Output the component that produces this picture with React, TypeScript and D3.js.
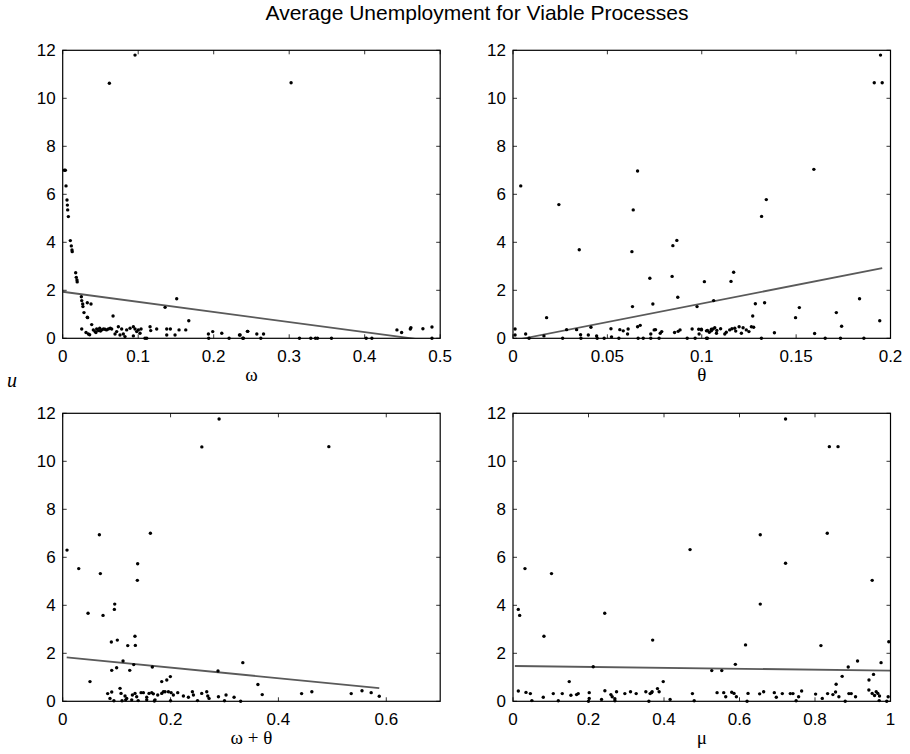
import React from "react";
import * as d3 from "d3";

// u (average unemployment) against each parameter
const omegaPts: [number, number][] = [
  [0.0958, 11.8], [0.0618, 10.63], [0.3025, 10.65],
  [0.002, 7.0], [0.0035, 7.0], [0.0044, 6.35], [0.0057, 5.76], [0.0062, 5.55], [0.0066, 5.35], [0.0075, 5.07],
  [0.0101, 4.07], [0.0114, 3.85], [0.0123, 3.68], [0.0126, 3.61],
  [0.0172, 2.73], [0.018, 2.54], [0.0189, 2.43], [0.0192, 2.35],
  [0.0247, 1.73], [0.0252, 1.57], [0.0265, 1.43], [0.0268, 1.32], [0.0326, 1.48], [0.0375, 1.43],
  [0.0282, 1.07], [0.0326, 0.88], [0.033, 0.86], [0.0384, 0.57], [0.0667, 0.93], [0.1356, 1.29], [0.151, 1.65], [0.167, 0.73],
  [0.0252, 0.39], [0.0309, 0.24], [0.034, 0.18], [0.0357, 0.15],
  [0.0406, 0.35], [0.0428, 0.28], [0.045, 0.39], [0.0472, 0.32], [0.049, 0.42], [0.0516, 0.35], [0.054, 0.39],
  [0.056, 0.38], [0.058, 0.35], [0.0605, 0.39], [0.063, 0.42], [0.0649, 0.39], [0.044, 0.24], [0.05, 0.3],
  [0.0693, 0.18], [0.0715, 0.28], [0.0737, 0.48], [0.0759, 0.14], [0.0781, 0.39], [0.0803, 0.18], [0.0825, 0.07],
  [0.0847, 0.35], [0.0892, 0.42], [0.0936, 0.48], [0.0958, 0.39], [0.098, 0.28], [0.1002, 0.35], [0.1038, 0.39],
  [0.0936, 0.1], [0.1024, 0.21], [0.109, 0.0], [0.1113, 0.0], [0.1157, 0.48], [0.1166, 0.32], [0.1245, 0.39],
  [0.1378, 0.39], [0.1426, 0.39], [0.1378, 0.14], [0.1488, 0.14], [0.1541, 0.35], [0.163, 0.35], [0.193, 0.18],
  [0.1934, 0.0], [0.1987, 0.28], [0.2107, 0.21], [0.2204, 0.0], [0.2341, 0.14], [0.2394, 0.0], [0.2451, 0.29],
  [0.235, 0.14], [0.2385, 0.0], [0.2447, 0.29], [0.2571, 0.18], [0.2624, 0.0], [0.266, 0.18], [0.3136, 0.0],
  [0.3286, 0.0], [0.3348, 0.0], [0.3375, 0.0], [0.356, 0.0], [0.402, 0.0], [0.4095, 0.0], [0.4427, 0.35],
  [0.4489, 0.24], [0.4604, 0.39], [0.4612, 0.44], [0.4771, 0.4], [0.4891, 0.47], [0.4891, 0.0],
];

const thetaPts: [number, number][] = [
  [0.1947, 11.8], [0.1914, 10.65], [0.1956, 10.65], [0.1594, 7.04], [0.066, 6.97], [0.0041, 6.35], [0.1342, 5.78],
  [0.0243, 5.57], [0.0637, 5.35], [0.1317, 5.08], [0.0868, 4.08], [0.0847, 3.86], [0.0351, 3.69], [0.063, 3.61],
  [0.1169, 2.75], [0.0843, 2.58], [0.0725, 2.5], [0.1014, 2.36], [0.1155, 2.37], [0.0873, 1.71], [0.1836, 1.65],
  [0.1063, 1.57], [0.1333, 1.48], [0.0741, 1.43], [0.1284, 1.44], [0.0633, 1.32], [0.0975, 1.32], [0.1517, 1.28],
  [0.1713, 1.07], [0.127, 0.93], [0.0178, 0.86], [0.1497, 0.86], [0.1943, 0.73], [0.1741, 0.5], [0.1385, 0.23],
  [0.1598, 0.2], [0.1316, 0], [0.1654, 0], [0.1735, 0], [0.1859, 0],
  [0.0011, 0.39], [0.0011, 0.14], [0.0067, 0.18], [0.0085, 0.0], [0.0164, 0.1], [0.0263, 0.0], [0.0284, 0.36],
  [0.0337, 0.36], [0.0358, 0.15], [0.0399, 0.14], [0.0413, 0.46], [0.0443, 0.1], [0.0483, 0.0], [0.0519, 0.4],
  [0.0522, 0.06], [0.0561, 0.0], [0.0566, 0.36], [0.0584, 0.31], [0.0607, 0.18], [0.061, 0.39], [0.066, 0.48],
  [0.0663, 0.0], [0.0674, 0.54], [0.069, 0.0], [0.073, 0.18], [0.0748, 0.35], [0.0755, 0.36], [0.073, 0.0],
  [0.0774, 0.0], [0.078, 0.21], [0.0788, 0.28], [0.0856, 0.24], [0.0875, 0.29], [0.0885, 0.35], [0.0923, 0.0],
  [0.0949, 0.39], [0.0984, 0.38], [0.0986, 0.18], [0.0998, 0.35], [0.103, 0.0], [0.103, 0.33], [0.1051, 0.31],
  [0.106, 0.39], [0.0998, 0.38], [0.1025, 0.31], [0.1051, 0.38], [0.1069, 0.44], [0.1078, 0.21], [0.1122, 0.18],
  [0.1148, 0.35], [0.1175, 0.42], [0.1198, 0.48], [0.121, 0.21], [0.1219, 0.44], [0.1236, 0.35], [0.125, 0.28],
  [0.1263, 0.48], [0.1275, 0.46], [0.1025, 0.0], [0.108, 0.33], [0.113, 0.25], [0.116, 0.4], [0.118, 0.3],
  [0.11, 0.4], [0.104, 0.25], [0.036, 0.0], [0.0446, 0.0], [0.0965, 0.0],
];

const sumPts: [number, number][] = [
  [0.29, 11.76], [0.258, 10.6], [0.4935, 10.61], [0.068, 6.94], [0.1626, 7.0], [0.008, 6.3], [0.0297, 5.53],
  [0.0698, 5.32], [0.139, 5.73], [0.1384, 5.04], [0.047, 3.67], [0.0748, 3.58], [0.0965, 4.05], [0.0958, 3.83],
  [0.0902, 2.47], [0.1013, 2.55], [0.134, 2.71], [0.1206, 2.32], [0.1347, 2.33], [0.1119, 1.68], [0.1317, 1.53],
  [0.0909, 1.29], [0.1, 1.4], [0.1243, 1.29], [0.1662, 1.43], [0.334, 1.61], [0.288, 1.26], [0.0506, 0.82],
  [0.1836, 0.82], [0.193, 0.89], [0.1996, 1.03],
  [0.362, 0.7], [0.37, 0.28], [0.443, 0.32], [0.462, 0.4], [0.535, 0.32], [0.555, 0.44], [0.572, 0.36], [0.587, 0.21],
  [0.0834, 0.32], [0.0909, 0.39], [0.0877, 0.12], [0.1063, 0.54], [0.1082, 0.33], [0.1156, 0.22], [0.1187, 0.12],
  [0.1292, 0.26], [0.1341, 0.33], [0.1372, 0.19], [0.1453, 0.36], [0.1496, 0.36], [0.1558, 0.17], [0.1601, 0.33],
  [0.1651, 0.36], [0.1681, 0.31], [0.1762, 0.26], [0.1836, 0.33], [0.1867, 0.4], [0.1898, 0.4], [0.196, 0.4],
  [0.201, 0.36], [0.2052, 0.26], [0.2133, 0.36], [0.2238, 0.22], [0.2331, 0.17], [0.2405, 0.4], [0.2424, 0.26],
  [0.2578, 0.33], [0.2671, 0.4], [0.269, 0.22], [0.2714, 0.12], [0.2888, 0.19], [0.3029, 0.26], [0.3178, 0.17],
  [0.1558, 0.06], [0.1712, 0.06], [0.1168, 0.06], [0.128, 0.06], [0.11, 0.02], [0.14, 0.03], [0.17, 0.01],
  [0.2, 0.02], [0.25, 0.03], [0.3, 0.02], [0.33, 0.0], [0.095, 0.02],
];

const muPts: [number, number][] = [
  [0.722, 11.76], [0.838, 10.61], [0.861, 10.61], [0.655, 6.94], [0.8325, 7.0], [0.469, 6.32], [0.722, 5.75],
  [0.0317, 5.53], [0.102, 5.32], [0.9515, 5.04], [0.655, 4.05], [0.014, 3.83], [0.0177, 3.58], [0.243, 3.67],
  [0.082, 2.71], [0.37, 2.55], [0.616, 2.35], [0.8157, 2.32], [0.9955, 2.48], [0.2125, 1.44], [0.5265, 1.28],
  [0.553, 1.28], [0.589, 1.54], [0.9127, 1.68], [0.975, 1.61], [0.888, 1.43], [0.872, 1.04], [0.856, 0.71],
  [0.943, 0.89], [0.149, 0.82], [0.398, 0.82],
  [0.0141, 0.43], [0.0344, 0.37], [0.046, 0.32], [0.0802, 0.17], [0.1067, 0.32], [0.1305, 0.32], [0.1534, 0.25],
  [0.1684, 0.28], [0.1728, 0.32], [0.2019, 0.36], [0.2019, 0.12], [0.2346, 0.08], [0.2434, 0.44], [0.2593, 0.28],
  [0.2628, 0.19], [0.2698, 0.11], [0.2743, 0.4], [0.2963, 0.32], [0.3113, 0.4], [0.3263, 0.32], [0.3519, 0.4],
  [0.3633, 0.32], [0.3669, 0.36], [0.3686, 0.4], [0.3827, 0.53], [0.3871, 0.4], [0.4162, 0.08], [0.4753, 0.32],
  [0.5406, 0.36], [0.5582, 0.36], [0.5635, 0.19], [0.5794, 0.38], [0.5855, 0.33], [0.5917, 0.19], [0.6226, 0.33],
  [0.6534, 0.31], [0.664, 0.4], [0.6922, 0.36], [0.6975, 0.17], [0.7134, 0.32], [0.7346, 0.32], [0.7416, 0.32],
  [0.7566, 0.19], [0.7646, 0.43], [0.8016, 0.3], [0.8193, 0.12], [0.8334, 0.32], [0.8474, 0.28], [0.8545, 0.39],
  [0.8633, 0.19], [0.8898, 0.32], [0.896, 0.32], [0.9074, 0.19], [0.9427, 0.47], [0.9515, 0.33], [0.9577, 0.24],
  [0.9621, 0.4], [0.9665, 0.33], [0.9709, 0.22], [0.955, 1.12], [0.9938, 0.19],
  [0.05, 0.03], [0.12, 0.02], [0.2, 0.0], [0.27, 0.02], [0.36, 0.0], [0.48, 0.02], [0.62, 0.0], [0.75, 0.02],
  [0.88, 0.0], [0.97, 0.03], [0.99, 0.0],
];

// least-squares lines, endpoints
const omegaFit: [number, number][] = [[0.0, 1.94], [0.49, -0.12]];
const thetaFit: [number, number][] = [[0.004, -0.03], [0.1956, 2.92]];
const sumFit: [number, number][] = [[0.0074, 1.83], [0.587, 0.55]];
const muFit: [number, number][] = [[0.005, 1.47], [1.0, 1.28]];

const uTicks = [0, 2, 4, 6, 8, 10, 12];
const omegaTicks = [0, 0.1, 0.2, 0.3, 0.4, 0.5];
const thetaTicks = [0, 0.05, 0.1, 0.15, 0.2];
const sumTicks = [0, 0.2, 0.4, 0.6];
const muTicks = [0, 0.2, 0.4, 0.6, 0.8, 1];

const title = "Average Unemployment for Viable Processes";
const sans = "'Liberation Sans', Arial, Helvetica, sans-serif";
const serif = "'Liberation Serif', 'Times New Roman', serif";

type PanelProps = {
  id: string;
  left: number;
  top: number;
  xMax: number;
  xTicks: number[];
  pts: [number, number][];
  fit: [number, number][];
  label: string;
};

const W = 377.5;
const H = 288;
const TICK = 4;

const Panel = ({ id, left, top, xMax, xTicks, pts, fit, label }: PanelProps) => {
  const x = d3.scaleLinear().domain([0, xMax]).range([0, W]);
  const y = d3.scaleLinear().domain([0, 12]).range([H, 0]);
  const line = d3
    .line<[number, number]>()
    .x((d) => x(d[0]))
    .y((d) => y(d[1]));

  return (
    <g transform={`translate(${left},${top})`}>
      <clipPath id={id}>
        <rect x={0} y={0} width={W} height={H} />
      </clipPath>
      <rect x={0} y={0} width={W} height={H} fill="white" />
      {/* regression line */}
      <path d={line(fit) ?? ""} stroke="#5a5a5a" strokeWidth={1.8} fill="none" clipPath={`url(#${id})`} />
      {/* points */}
      {pts.map((d, i) => (
        <circle key={i} cx={x(d[0])} cy={y(d[1])} r={1.7} fill="black" />
      ))}
      {/* inward ticks on all sides */}
      {xTicks.map((t, i) => (
        <g key={i}>
          <line x1={x(t)} x2={x(t)} y1={H} y2={H - TICK} stroke="black" strokeWidth={0.8} />
          <line x1={x(t)} x2={x(t)} y1={0} y2={TICK} stroke="black" strokeWidth={0.8} />
          <text x={x(t)} y={H + 24} textAnchor="middle" fontFamily={sans} fontSize={17}>
            {String(t)}
          </text>
        </g>
      ))}
      {uTicks.map((t, i) => (
        <g key={i}>
          <line x1={0} x2={TICK} y1={y(t)} y2={y(t)} stroke="black" strokeWidth={0.8} />
          <line x1={W} x2={W - TICK} y1={y(t)} y2={y(t)} stroke="black" strokeWidth={0.8} />
          <text x={-7} y={y(t) + 6} textAnchor="end" fontFamily={sans} fontSize={17}>
            {String(t)}
          </text>
        </g>
      ))}
      <rect x={0} y={0} width={W} height={H} fill="none" stroke="black" strokeWidth={1.2} />
      <text x={W / 2} y={H + 43} textAnchor="middle" fontFamily={serif} fontSize={19}>
        {label}
      </text>
    </g>
  );
};

const App = () => {
  return (
    <svg
      width={910}
      height={754}
      style={{ position: "absolute", left: 0, top: 0, background: "white" }}
    >
      <rect width={910} height={754} fill="white" />
      <text x={477} y={20} textAnchor="middle" fontFamily={sans} fontSize={21}>
        {title}
      </text>
      <Panel id="c1" left={62.7} top={50.3} xMax={0.5} xTicks={omegaTicks} pts={omegaPts} fit={omegaFit} label="ω" />
      <Panel id="c2" left={513} top={50.3} xMax={0.2} xTicks={thetaTicks} pts={thetaPts} fit={thetaFit} label="θ" />
      <Panel id="c3" left={62.7} top={413.3} xMax={0.7} xTicks={sumTicks} pts={sumPts} fit={sumFit} label="ω + θ" />
      <Panel id="c4" left={513} top={413.3} xMax={1} xTicks={muTicks} pts={muPts} fit={muFit} label="μ" />
      <text x={12} y={387} textAnchor="middle" fontFamily={serif} fontStyle="italic" fontSize={20}>
        u
      </text>
    </svg>
  );
};

export default App;
